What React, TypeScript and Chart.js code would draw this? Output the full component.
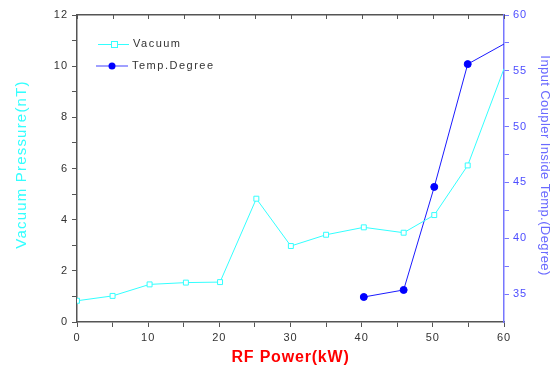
import React, { useEffect, useRef } from "react";
import { Chart, registerables } from "chart.js";

Chart.register(...registerables);

const rfPower = [0, 5, 10.2, 15.3, 20.1, 25.2, 30.05, 35, 40.3, 45.9, 50.2, 54.9, 60];
const vacuum = [0.83, 1.02, 1.47, 1.54, 1.56, 4.82, 2.97, 3.41, 3.7, 3.49, 4.18, 6.12, 9.9];
const tempPower = [40.3, 45.9, 50.2, 54.9, 60];
const tempDegree = [34.74, 35.37, 44.6, 55.6, 57.4];

const xTicks = [0, 5, 10, 15, 20, 25, 30, 35, 40, 45, 50, 55, 60];
const leftTicks = [0, 1, 2, 3, 4, 5, 6, 7, 8, 9, 10, 11, 12];
const rightTicks = [35, 37.5, 40, 42.5, 45, 47.5, 50, 52.5, 55, 57.5, 60];

const xTitle = "RF Power(kW)";
const leftTitle = "Vacuum Pressure(nT)";
const rightTitle = "Input Coupler Inside Temp.(Degree)";

const CYAN = "#33ffff";
const BLUE = "#1a1aff";
const AXIS_BLUE = "#7777ff";
const RIGHT_TICK = "#4d4dff";
const GRAY = "#555555";
const FONT = "'Liberation Sans', Arial, sans-serif";

export default function App() {
  const ref = useRef<HTMLCanvasElement | null>(null);
  useEffect(() => {
    if (!ref.current) return;
    const decor = {
      id: "decor",
      beforeDraw(chart: any) {
        chart.ctx.letterSpacing = "1px";
      },
      afterDraw(chart: any) {
        const ctx = chart.ctx;
        const area = chart.chartArea;
        const xs = chart.scales.x;
        ctx.save();
        ctx.strokeStyle = GRAY;
        ctx.lineWidth = 1;
        // top inner ticks
        xTicks.forEach((v) => {
          const px = Math.round(xs.getPixelForValue(v)) + 0.5;
          ctx.beginPath();
          ctx.moveTo(px, area.top);
          ctx.lineTo(px, area.top + 4);
          ctx.stroke();
        });
        // axis titles
        const midY = (area.top + area.bottom) / 2;
        ctx.textAlign = "center";
        ctx.textBaseline = "middle";
        ctx.font = `bold 16px ${FONT}`;
        ctx.letterSpacing = "0.8px";
        ctx.fillStyle = "#ff0000";
        ctx.fillText(xTitle, (area.left + area.right) / 2, 358);

        ctx.save();
        ctx.translate(22, midY - 4);
        ctx.rotate(-Math.PI / 2);
        ctx.font = `15px ${FONT}`;
        ctx.letterSpacing = "1.2px";
        ctx.fillStyle = CYAN;
        ctx.fillText(leftTitle, 0, 0);
        ctx.restore();

        ctx.save();
        ctx.translate(545, midY - 3);
        ctx.rotate(Math.PI / 2);
        ctx.font = `13px ${FONT}`;
        ctx.letterSpacing = "0.4px";
        ctx.fillStyle = "#6a6aff";
        ctx.fillText(rightTitle, 0, 0);
        ctx.restore();

        // legend
        ctx.textAlign = "left";
        ctx.font = `11px ${FONT}`;
        ctx.letterSpacing = "1.5px";
        ctx.fillStyle = "#333333";
        ctx.lineWidth = 1;
        ctx.strokeStyle = CYAN;
        ctx.beginPath();
        ctx.moveTo(98, 44.5);
        ctx.lineTo(129, 44.5);
        ctx.stroke();
        ctx.fillStyle = "#ffffff";
        ctx.fillRect(111, 41, 7, 7);
        ctx.strokeRect(111.5, 41.5, 6, 6);
        ctx.fillStyle = "#333333";
        ctx.fillText("Vacuum", 133, 44);
        ctx.strokeStyle = "#8080ff";
        ctx.lineWidth = 1.5;
        ctx.beginPath();
        ctx.moveTo(96, 66);
        ctx.lineTo(128, 66);
        ctx.stroke();
        ctx.fillStyle = "#0000ff";
        ctx.beginPath();
        ctx.arc(112, 66, 3.5, 0, Math.PI * 2);
        ctx.fill();
        ctx.fillStyle = "#333333";
        ctx.fillText("Temp.Degree", 132, 66);
        ctx.restore();
      },
    };

    const chart = new Chart(ref.current, {
      type: "line",
      data: {
        datasets: [
          {
            label: "Vacuum",
            data: rfPower.map((x, i) => ({ x, y: vacuum[i] })),
            borderColor: CYAN,
            borderWidth: 1,
            pointStyle: "rect",
            pointRadius: rfPower.map((_, i) => (i === rfPower.length - 1 ? 0 : 3.5)),
            pointBackgroundColor: "#ffffff",
            pointBorderColor: CYAN,
            pointBorderWidth: 1,
            yAxisID: "y",
          },
          {
            label: "Temp.Degree",
            data: tempPower.map((x, i) => ({ x, y: tempDegree[i] })),
            borderColor: BLUE,
            borderWidth: 1,
            pointStyle: "circle",
            pointRadius: tempPower.map((_, i) => (i === tempPower.length - 1 ? 0 : 3.5)),
            pointBackgroundColor: "#0000ff",
            pointBorderColor: "#0000ff",
            yAxisID: "y1",
          },
        ],
      },
      options: {
        responsive: true,
        maintainAspectRatio: false,
        animation: false,
        layout: { padding: { top: 15, left: 0, right: 0, bottom: 0 } },
        plugins: { legend: { display: false }, tooltip: { enabled: false } },
        scales: {
          x: {
            type: "linear",
            position: "bottom",
            min: 0,
            max: 60,
            afterBuildTicks: (s: any) => {
              s.ticks = xTicks.map((v) => ({ value: v }));
            },
            afterFit: (s: any) => {
              s.height = 49;
            },
            ticks: {
              color: "#333333",
              font: { family: FONT, size: 11 },
              padding: 4,
              maxRotation: 0,
              autoSkip: false,
              callback: (v: any) => (Number(v) % 10 === 0 ? String(v) : ""),
            },
            grid: { drawOnChartArea: false, color: GRAY, tickLength: 5 },
            border: { color: GRAY, width: 1.5 },
          },
          x2: {
            type: "linear",
            position: "top",
            min: 0,
            max: 60,
            afterFit: (s: any) => {
              s.height = 0;
            },
            ticks: { display: false },
            grid: { drawOnChartArea: false, drawTicks: false },
            border: { color: GRAY, width: 1.5 },
          },
          y: {
            type: "linear",
            position: "left",
            min: 0,
            max: 12,
            afterBuildTicks: (s: any) => {
              s.ticks = leftTicks.map((v) => ({ value: v }));
            },
            afterFit: (s: any) => {
              s.width = 77;
            },
            ticks: {
              color: "#333333",
              font: { family: FONT, size: 11 },
              padding: 4,
              autoSkip: false,
              callback: (v: any) => (Number(v) % 2 === 0 ? String(v) : ""),
            },
            grid: { drawOnChartArea: false, color: GRAY, tickLength: 5 },
            border: { color: GRAY, width: 1.5 },
          },
          y1: {
            type: "linear",
            position: "right",
            min: 32.5,
            max: 60,
            afterBuildTicks: (s: any) => {
              s.ticks = rightTicks.map((v) => ({ value: v }));
            },
            afterFit: (s: any) => {
              s.width = 56;
            },
            ticks: {
              color: RIGHT_TICK,
              font: { family: FONT, size: 11 },
              padding: 4,
              autoSkip: false,
              callback: (v: any) => (Number(v) % 5 === 0 ? String(v) : ""),
            },
            grid: { drawOnChartArea: false, color: AXIS_BLUE, tickLength: 5 },
            border: { color: AXIS_BLUE, width: 1.5 },
          },
        },
      },
      plugins: [decor],
    } as any);
    return () => chart.destroy();
  }, []);

  return (
    <div style={{ position: "fixed", left: 0, top: 0, width: 560, height: 371, background: "#ffffff" }}>
      <canvas ref={ref} />
    </div>
  );
}
